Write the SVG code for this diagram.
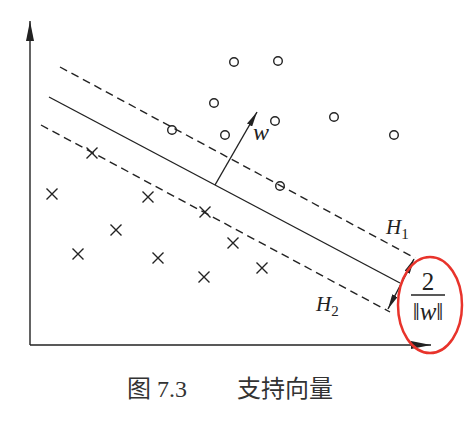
<svg xmlns="http://www.w3.org/2000/svg" width="466" height="426" viewBox="0 0 466 426">
<style>
.ln{stroke:#222;stroke-width:1.4;fill:none}
.dash{stroke-dasharray:8 5}
.pt{stroke:#222;stroke-width:1.4;fill:none}
.it{font-family:"Liberation Serif",serif;font-style:italic;fill:#222}
.rm{font-family:"Liberation Serif",serif;fill:#222}
.cap{font-family:"Liberation Serif","Noto Sans CJK SC",serif;fill:#333}
</style>
<defs>
<marker id="ah" viewBox="0 0 20 8" refX="20" refY="4" markerWidth="20" markerHeight="8" markerUnits="userSpaceOnUse" orient="auto-start-reverse">
<path d="M0,0 L20,4 L0,8 Z" fill="#222"/>
</marker>
<marker id="ahs" viewBox="0 0 15 6" refX="15" refY="3" markerWidth="15" markerHeight="6" markerUnits="userSpaceOnUse" orient="auto-start-reverse">
<path d="M0,0 L15,3 L0,6 Z" fill="#222"/>
</marker>
<g id="o"><circle r="4.3" class="pt"/></g>
<g id="x"><path d="M-5.5,-5.5 L5.5,5.5 M-5.5,5.5 L5.5,-5.5" class="pt"/></g>
</defs>
<rect width="466" height="426" fill="#fff"/>
<g id="connectors">
<line id="y-axis" class="ln" x1="30" y1="345" x2="30" y2="21" marker-end="url(#ah)"/>
<line id="x-axis" class="ln" x1="30" y1="345" x2="431" y2="345" marker-end="url(#ah)"/>
<line id="H1-line" class="ln dash" x1="60" y1="67" x2="415" y2="258"/>
<line id="hyperplane" class="ln" x1="49" y1="97" x2="400" y2="283"/>
<line id="H2-line" class="ln dash" x1="41" y1="125" x2="390" y2="312"/>
<line id="w-vector" class="ln" x1="215" y1="185" x2="257" y2="112" marker-end="url(#ahs)"/>
<line id="margin" class="ln" x1="414" y1="259" x2="388" y2="309" marker-start="url(#ahs)" marker-end="url(#ahs)"/>
</g>
<g id="positives">
<use href="#o" x="234" y="62"/>
<use href="#o" x="278" y="61"/>
<use href="#o" x="214" y="103"/>
<use href="#o" x="172" y="130"/>
<use href="#o" x="225" y="135"/>
<use href="#o" x="275" y="121"/>
<use href="#o" x="334" y="117"/>
<use href="#o" x="394" y="135"/>
<use href="#o" x="280" y="186"/>
</g>
<g id="negatives">
<use href="#x" x="92" y="153"/>
<use href="#x" x="52" y="194"/>
<use href="#x" x="148" y="197"/>
<use href="#x" x="205" y="212"/>
<use href="#x" x="116" y="230"/>
<use href="#x" x="78" y="254"/>
<use href="#x" x="158" y="258"/>
<use href="#x" x="233" y="243"/>
<use href="#x" x="204" y="277"/>
<use href="#x" x="262" y="268"/>
</g>
<g id="labels">
<text class="it" x="253" y="140" font-size="24">w</text>
<text class="it" x="386" y="234" font-size="21">H<tspan font-style="normal" font-size="15" dy="5">1</tspan></text>
<text class="it" x="316" y="311" font-size="21">H<tspan font-style="normal" font-size="15" dy="5">2</tspan></text>
</g>
<g id="margin-label">
<text class="rm" x="428" y="290" font-size="25" text-anchor="middle">2</text>
<line x1="411" y1="295" x2="445" y2="295" stroke="#222" stroke-width="1.3"/>
<text class="rm" x="428" y="320" font-size="25" text-anchor="middle">‖<tspan font-style="italic">w</tspan>‖</text>
<ellipse cx="430" cy="305" rx="32" ry="48" fill="none" stroke="#e8332b" stroke-width="2.5"/>
</g>
<g id="caption">
<text class="cap" x="127" y="397" font-size="24">图 7.3<tspan x="237">支持向量</tspan></text>
</g>
</svg>
